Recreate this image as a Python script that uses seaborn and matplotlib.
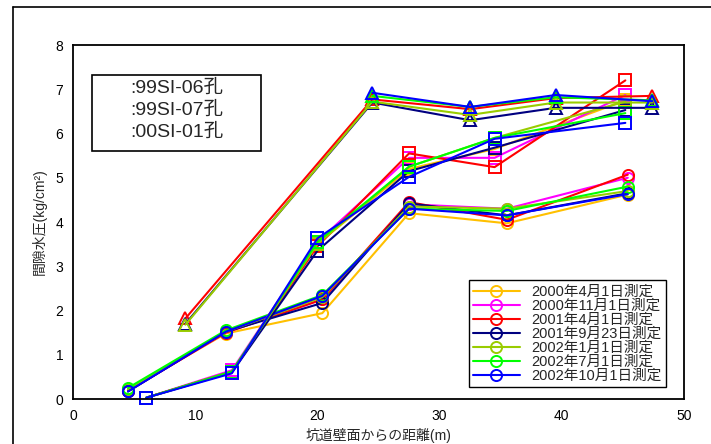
import numpy as np
import pandas as pd
import matplotlib
matplotlib.use("Agg")
import matplotlib.pyplot as plt
from matplotlib.patches import Rectangle
from matplotlib.lines import Line2D
import seaborn as sns

# Data
dates = ['2000年4月1日測定', '2000年11月1日測定', '2001年4月1日測定', '2001年9月23日測定',
         '2002年1月1日測定', '2002年7月1日測定', '2002年10月1日測定']
colors = ['#FFC000', '#FF00FF', '#FF0000', '#000080', '#99CC00', '#00FF00', '#0000FF']

holes = [':99SI-06孔', ':99SI-07孔', ':00SI-01孔']
hole_markers = ['o', 's', '^']

# 99SI-06孔 (circles)
x_06 = [4.5, 12.5, 20.4, 27.5, 35.5, 45.4]
y_06 = [
    [0.20, 1.48, 1.94, 4.20, 3.97, 4.62],
    [0.18, 1.50, 2.25, 4.40, 4.30, 5.00],
    [0.18, 1.50, 2.25, 4.45, 4.05, 5.07],
    [0.17, 1.52, 2.17, 4.42, 4.15, 4.65],
    [0.22, 1.52, 2.30, 4.35, 4.30, 4.70],
    [0.25, 1.55, 2.35, 4.30, 4.25, 4.80],
    [0.17, 1.52, 2.33, 4.30, 4.15, 4.63],
]

# 99SI-07孔 (squares)
x_07 = [6.0, 13.0, 20.0, 27.5, 34.5, 45.2]
y_07 = [
    [0.03, 0.62, 3.50, 5.20, 5.65, 6.75],
    [0.03, 0.65, 3.55, 5.45, 5.45, 6.87],
    [0.03, 0.62, 3.45, 5.55, 5.24, 7.20],
    [0.03, 0.60, 3.35, 5.15, 5.68, 6.53],
    [0.03, 0.62, 3.50, 5.25, 5.90, 6.72],
    [0.03, 0.62, 3.55, 5.25, 5.90, 6.46],
    [0.03, 0.58, 3.63, 5.02, 5.88, 6.24],
]

# 00SI-01孔 (triangles)
x_01 = [9.2, 24.5, 32.5, 39.5, 47.4]
y_01 = [
    [np.nan] * 5,
    [np.nan] * 5,
    [1.82, 6.77, 6.55, 6.80, 6.85],
    [1.70, 6.70, 6.30, 6.58, 6.58],
    [1.68, 6.72, 6.42, 6.70, 6.70],
    [np.nan, 6.85, 6.60, 6.82, 6.75],
    [np.nan, 6.92, 6.60, 6.87, 6.73],
]

sns.set_style("white")
plt.rcParams['font.family'] = ['Liberation Sans', 'Noto Sans CJK JP', 'DejaVu Sans']

W, H = 711, 444
fig = plt.figure(figsize=(W / 100, H / 100), dpi=100)
ax = fig.add_axes([73 / W, 1 - 399 / H, (684 - 73) / W, (399 - 45) / H])

groups = [(x_06, y_06), (x_07, y_07), (x_01, y_01)]
for (xs, ys), m in zip(groups, hole_markers):
    for vals, c in zip(ys, colors):
        df = pd.DataFrame({'x': xs, 'y': vals}).dropna()
        if df.empty:
            continue
        sns.lineplot(data=df, x='x', y='y', ax=ax, color=c, marker=m, sort=False,
                     estimator=None, lw=1.5, ms=8 if m != 's' else 8.5,
                     mfc='none', mec=c, mew=1.4, clip_on=False)

ax.set_xlim(0, 50)
ax.set_ylim(0, 8)
ax.set_xticks(range(0, 51, 10))
ax.set_yticks(range(0, 9))
ax.tick_params(direction='in', length=4, width=1, labelsize=10, pad=7, colors='black')
for s in ax.spines.values():
    s.set_visible(True)
    s.set_color('black')
    s.set_linewidth(1.3)
ax.set_xlabel('坑道壁面からの距離(m)', fontsize=10, labelpad=4)
ax.set_ylabel('間隙水圧(kg/cm²)', fontsize=10, labelpad=6)

# date legend
handles = [Line2D([], [], color=c, marker='o', mfc='none', mec=c, ms=8, mew=1.4, lw=1.5)
           for c in colors]
leg = ax.legend(handles, dates, loc='lower right', bbox_to_anchor=(666 / W, 1 - 387 / H),
                bbox_transform=fig.transFigure, borderaxespad=0, fancybox=False,
                framealpha=1, edgecolor='black', fontsize=10.5, labelspacing=0.0,
                handlelength=3.2, handletextpad=0.8, borderpad=0.3)
leg.get_frame().set_linewidth(1.0)

# hole name box (no markers in the original)
fig.add_artist(Rectangle((92 / W, 1 - 151 / H), (261 - 92) / W, (151 - 75) / H,
                         transform=fig.transFigure, fill=False, ec='black', lw=1.2))
for i, name in enumerate(holes):
    fig.text(130 / W, 1 - (88 + 22 * i) / H, name, fontsize=14, va='center', ha='left')

# outer frame
fig.add_artist(Line2D([13 / W, 13 / W], [0, 1 - 7 / H], transform=fig.transFigure,
                      color='black', lw=1.2))
fig.add_artist(Line2D([13 / W, 1], [1 - 7 / H, 1 - 7 / H], transform=fig.transFigure,
                      color='black', lw=1.2))

fig.savefig('out.png', dpi=100)
